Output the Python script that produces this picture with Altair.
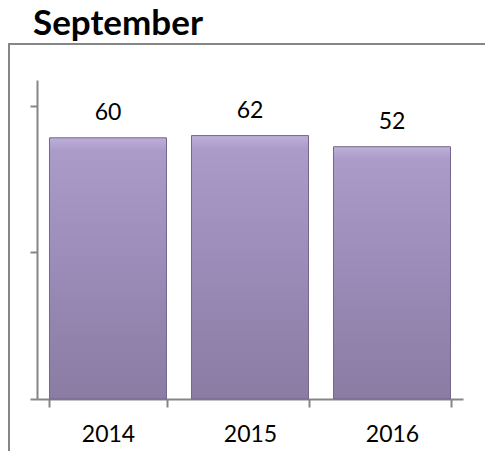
import altair as alt
import pandas as pd

title_text = "September"
years = ["2014", "2015", "2016"]
values = [60, 62, 52]

# value axis (no labels shown in the reference)
Y_MIN = -175
Y_MAX = 112
Y_TICKS = [-175, -43, 89]

df = pd.DataFrame({"year": years, "value": values})

FONT = "Lato"
AXIS_GRAY = "#868686"

grad = alt.Gradient(
    gradient="linear",
    x1=0, y1=0, x2=0, y2=1,
    stops=[
        alt.GradientStop(color="#bdb0d8", offset=0),
        alt.GradientStop(color="#ab9bc9", offset=0.05),
        alt.GradientStop(color="#9a8bb8", offset=0.5),
        alt.GradientStop(color="#8a7ca2", offset=1),
    ],
)

x_enc = alt.X(
    "year:N",
    sort=years,
    scale=alt.Scale(paddingInner=0.176, paddingOuter=0.088),
    axis=alt.Axis(
        title=None, labelAngle=0, labelFont=FONT, labelFontSize=23,
        labelColor="#000000", labelPadding=16, tickSize=8, tickWidth=2,
        tickColor=AXIS_GRAY, domainColor=AXIS_GRAY, domainWidth=2,
        tickBand="extent", grid=False,
    ),
)
y_scale = alt.Scale(domain=[Y_MIN, Y_MAX], zero=False, nice=False)

frame = alt.Chart(df).mark_rect(
    fill=None, stroke=AXIS_GRAY, strokeWidth=2
).encode(
    x=alt.value(-28), x2=alt.value(470), y=alt.value(-36), y2=alt.value(420)
)

title = alt.Chart(pd.DataFrame({"t": [title_text]})).mark_text(
    font=FONT, fontSize=35, fontWeight="bold", color="#000000",
    align="left", baseline="alphabetic",
).encode(
    text="t:N", x=alt.value(-4), y=alt.value(-45)
)

bars = alt.Chart(df).mark_bar(
    fill=grad, stroke="#76688c", strokeWidth=1
).encode(
    x=x_enc,
    y=alt.Y(
        "value:Q", scale=y_scale,
        axis=alt.Axis(
            title=None, labels=False, values=Y_TICKS, tickSize=7, tickWidth=2,
            tickColor=AXIS_GRAY, domainColor=AXIS_GRAY, domainWidth=2, grid=False,
        ),
    ),
    y2=alt.datum(Y_MIN),
)

labels = alt.Chart(df).mark_text(
    font=FONT, fontSize=23, color="#000000", dy=-18, baseline="alphabetic", align="center"
).encode(
    x=alt.X("year:N", sort=years),
    y=alt.Y("value:Q", scale=y_scale),
    text=alt.Text("value:Q"),
)

chart = alt.layer(frame, title, bars, labels).properties(
    width=426,
    height=319,
    autosize=alt.AutoSizeParams(type="none"),
    padding={"left": 29, "top": 72, "right": 22, "bottom": 52},
).configure_view(stroke=None)

chart.save("out.html", embed_options={"renderer": "svg", "actions": False})
